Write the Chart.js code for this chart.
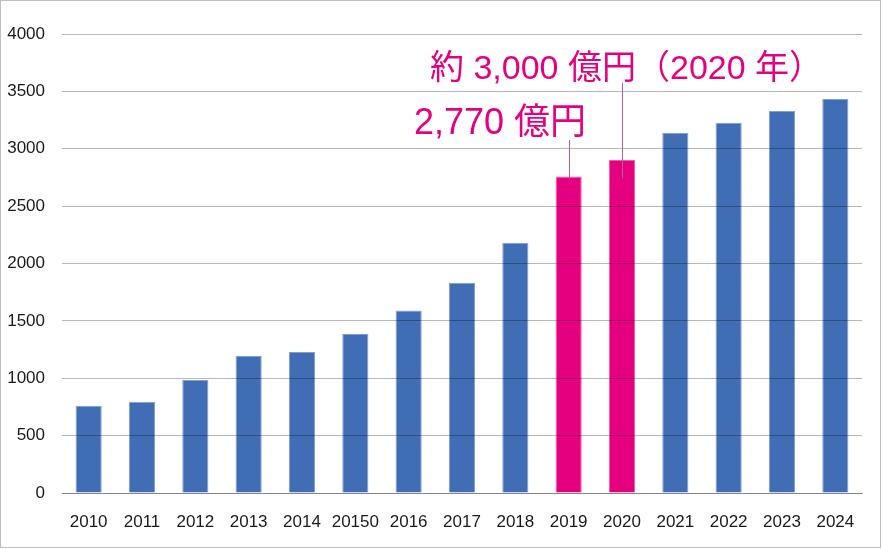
<!DOCTYPE html>
<html>
<head>
<meta charset="utf-8">
<script src="https://cdn.jsdelivr.net/npm/chart.js@4.4.1/dist/chart.umd.min.js"></script>
<style>
  html, body { margin: 0; padding: 0; background: #fff; }
  #wrap { position: relative; width: 883px; height: 549px; }
</style>
</head>
<body>
<div id="wrap"><canvas id="c" width="883" height="549"></canvas></div>
<script>
// ---- data ----
const years = ['2010','2011','2012','2013','2014','20150','2016','2017','2018','2019','2020','2021','2022','2023','2024'];
const marketValues = [761, 796, 985, 1194, 1229, 1386, 1591, 1833, 2180, 2759, 2902, 3140, 3227, 3329, 3434];
const highlightYears = ['2019', '2020'];
const yTicks = [0, 500, 1000, 1500, 2000, 2500, 3000, 3500, 4000];
const noteSmall = '2,770 億円';
const noteLarge = '約 3,000 億円（2020 年）';

const BLUE = '#416DB4', BLUE_EDGE = '#7F9FD2';
const PINK = '#E4007F', PINK_EDGE = '#F25BAA';
const bg = years.map(y => highlightYears.includes(y) ? PINK : BLUE);
const bd = years.map(y => highlightYears.includes(y) ? PINK_EDGE : BLUE_EDGE);

const framePlugin = {
  id: 'frame',
  afterDraw(chart) {
    const ctx = chart.ctx;
    ctx.save();
    ctx.strokeStyle = '#BEBEBE';
    ctx.lineWidth = 1;
    ctx.strokeRect(0.5, 0.5, 880, 547);
    ctx.restore();
  }
};

const notePlugin = {
  id: 'notes',
  afterDraw(chart) {
    const ctx = chart.ctx;
    const x = chart.scales.x, y = chart.scales.y;
    const i19 = years.indexOf('2019'), i20 = years.indexOf('2020');
    const x19 = Math.round(x.getPixelForValue(i19)) + 0.5;
    const x20 = Math.round(x.getPixelForValue(i20)) + 0.5;
    const lineEnd = y.getPixelForValue(marketValues[i19]) + 2;
    ctx.save();
    ctx.strokeStyle = '#B2609A';
    ctx.lineWidth = 1;
    ctx.beginPath();
    ctx.moveTo(x19, 140); ctx.lineTo(x19, lineEnd);
    ctx.moveTo(x20, 83); ctx.lineTo(x20, lineEnd);
    ctx.stroke();
    ctx.fillStyle = PINK;
    ctx.textBaseline = 'alphabetic';
    ctx.textAlign = 'left';
    ctx.font = '36px "Liberation Sans", "Noto Sans CJK JP", sans-serif';
    ctx.fillText(noteSmall, 414, 134);
    ctx.font = '34px "Liberation Sans", "Noto Sans CJK JP", sans-serif';
    ctx.fillText(noteLarge, 430, 79);
    ctx.restore();
  }
};

new Chart(document.getElementById('c'), {
  type: 'bar',
  data: {
    labels: years,
    datasets: [{
      data: marketValues,
      backgroundColor: bg,
      borderColor: bd,
      borderWidth: 1,
      barPercentage: 0.49,
      categoryPercentage: 1.0
    }]
  },
  options: {
    responsive: false,
    animation: false,
    devicePixelRatio: 1,
    layout: { padding: { left: 0, right: 21, top: 34, bottom: 0 } },
    plugins: { legend: { display: false }, tooltip: { enabled: false } },
    scales: {
      x: {
        grid: { display: false, drawTicks: false },
        border: { display: true, color: 'rgba(0,0,0,0.28)', width: 1 },
        ticks: {
          color: '#1a1a1a',
          font: { family: '"Liberation Sans", sans-serif', size: 17 },
          padding: 19,
          maxRotation: 0, autoSkip: false
        },
        afterFit(s) { s.height = 56; }
      },
      y: {
        min: 0, max: 4000,
        afterBuildTicks(s) { s.ticks = yTicks.map(v => ({ value: v })); },
        grid: { color: 'rgba(0,0,0,0.28)', lineWidth: 1, drawTicks: false, z: 1 },
        border: { display: false },
        ticks: {
          color: '#1a1a1a',
          font: { family: '"Liberation Sans", sans-serif', size: 17 },
          padding: 17,
          callback: v => String(v)
        },
        afterFit(s) { s.width = 62; }
      }
    }
  },
  plugins: [framePlugin, notePlugin]
});
</script>
</body>
</html>
